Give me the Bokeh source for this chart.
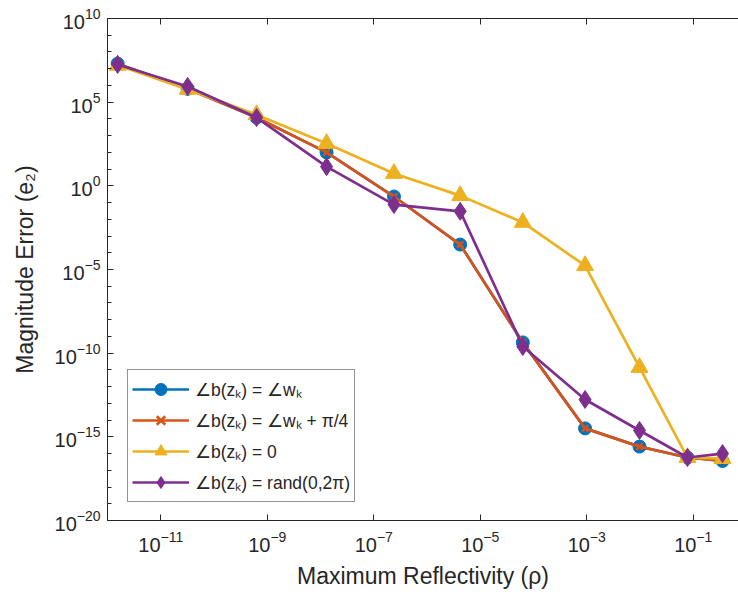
from bokeh.plotting import figure
from bokeh.models import Range1d, FixedTicker, LogAxis
from bokeh.embed import file_html
from bokeh.resources import INLINE

# Maximum reflectivity (x) values
rho = [1.55e-12, 3.2e-11, 6.3e-10, 1.3e-8, 2.4e-7, 4.2e-6, 6.3e-5, 9.3e-4, 9.8e-3, 7.8e-2, 0.355]

# Magnitude error e2 for each phase choice
err_w = [2.0e7, 6.3e5, 1.2e4, 1.0e2, 0.23, 3.1e-4, 4.4e-10, 3.2e-15, 2.6e-16, 5.8e-17, 3.6e-17]
err_w_pi4 = [2.0e7, 6.3e5, 1.2e4, 1.0e2, 0.23, 3.1e-4, 4.4e-10, 3.2e-15, 2.6e-16, 5.8e-17, 3.7e-17]
err_zero = [1.6e7, 5.8e5, 1.8e4, 3.4e2, 5.5, 0.26, 6.5e-3, 1.7e-5, 1.4e-11, 5.8e-17, 5.0e-17]
err_rand = [1.8e7, 8.7e5, 1.2e4, 14.0, 7.6e-2, 3.0e-2, 2.5e-10, 1.7e-13, 2.4e-15, 5.8e-17, 1.0e-16]

labels = ["∠b(zₖ) = ∠wₖ", "∠b(zₖ) = ∠wₖ + π/4", "∠b(zₖ) = 0", "∠b(zₖ) = rand(0,2π)"]
colors = ["#0072BD", "#D95319", "#EDB120", "#7E2F8E"]

x_ticks = [1e-11, 1e-9, 1e-7, 1e-5, 1e-3, 1e-1]
y_ticks = [1e-20, 1e-15, 1e-10, 1e-5, 1e0, 1e5, 1e10]
y_minor = [10.0 ** k for k in range(-20, 11)]

AX = "#262626"
FONT = "Liberation Sans"

p = figure(width=738, height=595, x_axis_type="log", y_axis_type="log",
           x_range=Range1d(1e-12, 10 ** -0.15), y_range=Range1d(1e-20, 1e10),
           output_backend="svg", toolbar_location=None,
           min_border_left=107, min_border_right=0, min_border_top=18, min_border_bottom=75)
p.outline_line_color = None
p.grid.visible = False
p.background_fill_color = "white"
p.border_fill_color = "white"

xa = p.below[0]
xa.ticker = FixedTicker(ticks=x_ticks, minor_ticks=[])
ya = p.left[0]
ya.ticker = FixedTicker(ticks=y_ticks, minor_ticks=y_minor)

for ax in (xa, ya):
    ax.axis_line_color = AX
    ax.major_tick_line_color = AX
    ax.minor_tick_line_color = AX
    ax.major_tick_in = 6
    ax.major_tick_out = 0
    ax.minor_tick_in = 4
    ax.minor_tick_out = 0
    ax.major_label_text_font = FONT
    ax.major_label_text_font_size = "20px"
    ax.major_label_text_color = AX
    ax.axis_label_text_font = FONT
    ax.axis_label_text_font_size = "23px"
    ax.axis_label_text_font_style = "normal"
    ax.axis_label_text_color = AX

xa.axis_label = "Maximum Reflectivity (ρ)"
ya.axis_label = "Magnitude Error (e₂)"
xa.major_label_standoff = 10
xa.axis_label_standoff = 8
ya.major_label_standoff = 7
ya.axis_label_standoff = 14

top = LogAxis(ticker=FixedTicker(ticks=x_ticks, minor_ticks=[]),
              major_label_text_font_size="1px", major_label_text_alpha=0,
              major_label_standoff=0,
              axis_line_color=AX, major_tick_line_color=AX,
              major_tick_in=6, major_tick_out=0, minor_tick_line_color=None)
p.add_layout(top, "above")

series = [err_w, err_w_pi4, err_zero, err_rand]
markers = ["circle", "x", "triangle", "diamond"]
sizes = [13, 9, 17, 18]
for ys, col, lab, mk, sz in zip(series, colors, labels, markers, sizes):
    p.line(rho, ys, line_color=col, line_width=2.7, legend_label=lab)
    if mk == "x":
        p.scatter(rho, ys, marker=mk, size=sz, line_color=col, line_width=2.5, legend_label=lab)
    else:
        p.scatter(rho, ys, marker=mk, size=sz, fill_color=col, line_color=col, line_width=1, legend_label=lab)

lg = p.legend[0]
lg.location = (20, 18)
lg.border_line_color = AX
lg.border_line_width = 1
lg.background_fill_color = "white"
lg.background_fill_alpha = 1
lg.label_text_font = FONT
lg.label_text_font_size = "17.5px"
lg.label_text_color = AX
lg.glyph_width = 57
lg.glyph_height = 30
lg.label_height = 30
lg.spacing = 1
lg.padding = 4
lg.margin = 0
lg.label_standoff = 6

open("out.html", "w").write(file_html(p, INLINE))
